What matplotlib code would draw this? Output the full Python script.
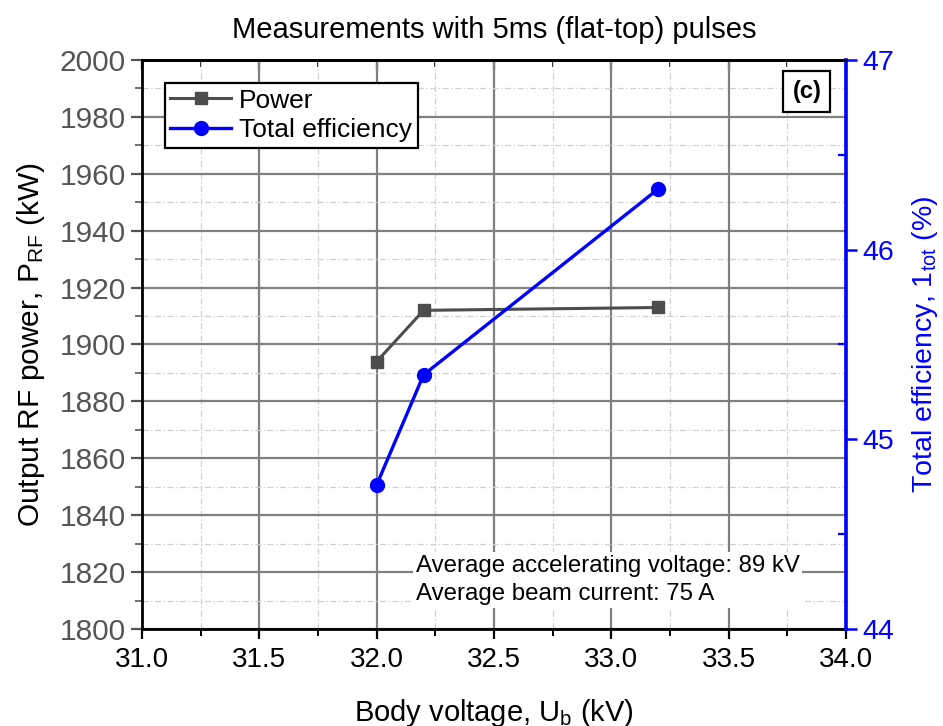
"""
Power and total efficiency vs body voltage, 5 ms flat-top pulses.
"""

import matplotlib
matplotlib.use("Agg")
import matplotlib.pyplot as plt
from matplotlib.ticker import MultipleLocator
from matplotlib.lines import Line2D

plt.rcParams["font.family"] = ["Liberation Sans", "DejaVu Sans"]
plt.rcParams["mathtext.fontset"] = "custom"
plt.rcParams["mathtext.rm"] = "Liberation Sans"
plt.rcParams["mathtext.it"] = "Liberation Sans"

# Данные
body_voltage = [32.0, 32.2, 33.2]
power_kw = [1894, 1912, 1913]
efficiency_pct = [44.76, 45.34, 46.32]

GRAY = "#4d4d4d"
BLUE = "#0000ff"

fig = plt.figure(figsize=(9.43, 7.26), dpi=100)
ax = fig.add_axes([0.1506, 0.1336, 0.7465, 0.7838])
ax2 = ax.twinx()

# Сетка
ax.set_axisbelow(True)
ax.grid(True, which="major", color="#808080", linewidth=1.6)
ax.grid(True, which="minor", color="#d0d0d0", linewidth=0.9,
        linestyle=(0, (5, 2, 1, 2)))

ax.plot(body_voltage, power_kw, "-s", color=GRAY, linewidth=2.2,
        markersize=9, zorder=3)
ax2.plot(body_voltage, efficiency_pct, "-o", color=BLUE, linewidth=2.4,
         markersize=10, zorder=3)

# Оси
ax.set_xlim(31.0, 34.0)
ax.set_ylim(1800, 2000)
ax2.set_ylim(44, 47)
ax.xaxis.set_major_locator(MultipleLocator(0.5))
ax.xaxis.set_minor_locator(MultipleLocator(0.25))
ax.yaxis.set_major_locator(MultipleLocator(20))
ax.yaxis.set_minor_locator(MultipleLocator(10))
ax2.yaxis.set_major_locator(MultipleLocator(1))
ax2.yaxis.set_minor_locator(MultipleLocator(0.5))
ax.xaxis.set_major_formatter(plt.FormatStrFormatter("%.1f"))

ax.tick_params(axis="x", which="major", direction="out", length=7, width=1.6,
               labelsize=20, pad=6, colors="black")
ax.tick_params(axis="x", which="minor", direction="out", length=5, width=1.4)
ax.tick_params(axis="y", which="major", direction="out", length=8, width=1.6,
               labelsize=21.5, labelcolor="#555555", color="#555555")
ax.tick_params(axis="y", which="minor", direction="out", length=5, width=1.2,
               color="#555555")
ax2.tick_params(axis="y", which="major", direction="out", length=8, width=1.8,
                labelsize=20.5, colors=BLUE)
ax2.tick_params(axis="y", which="minor", direction="in", length=6, width=1.6,
                colors=BLUE)

# Верхние засечки внутрь
top = ax.secondary_xaxis("top")
top.xaxis.set_major_locator(MultipleLocator(0.5))
top.xaxis.set_minor_locator(MultipleLocator(0.25))
top.tick_params(which="major", direction="in", length=7, width=1.6,
                labeltop=False)
top.tick_params(which="minor", direction="in", length=5, width=1.2)
top.spines["top"].set_linewidth(2)

for s in ["left", "bottom", "top"]:
    ax.spines[s].set_linewidth(2)
    ax.spines[s].set_color("black")
ax2.spines["right"].set_color(BLUE)
ax2.spines["right"].set_linewidth(2.6)
ax2.spines["left"].set_visible(False)

ax.set_xlabel("Body voltage, U$_{\\mathrm{b}}$ (kV)", fontsize=21, labelpad=17)
ax.set_ylabel("Output RF power, P$_{\\mathrm{RF}}$ (kW)", fontsize=21.5,
              labelpad=9)
ax2.set_ylabel("Total efficiency, 1$_{\\mathrm{tot}}$ (%)", fontsize=20.5,
               color=BLUE, labelpad=12)
ax.set_title("Measurements with 5ms (flat-top) pulses", fontsize=21, pad=16)

# Легенда
handles = [
    Line2D([], [], color=GRAY, marker="s", linewidth=2.2, markersize=9),
    Line2D([], [], color=BLUE, marker="o", linewidth=2.4, markersize=10),
]
leg = ax2.legend(handles, ["Power", "Total efficiency"], loc="upper left",
                 bbox_to_anchor=(0.032, 0.96), fontsize=19, frameon=True,
                 fancybox=False, framealpha=1, edgecolor="black",
                 handlelength=2.3, handletextpad=0.3, borderpad=0.22,
                 labelspacing=0.2, borderaxespad=0)
leg.get_frame().set_linewidth(1.6)

ax2.text(0.965, 0.965, "(c)", transform=ax2.transAxes, fontsize=17,
         fontweight="bold", ha="right", va="top",
         bbox=dict(boxstyle="square,pad=0.38", facecolor="white",
                   edgecolor="black", linewidth=1.6))

ax2.text(0.389, 0.086,
         "Average accelerating voltage: 89 kV\nAverage beam current: 75 A",
         transform=ax2.transAxes, fontsize=17.3, ha="left", va="center",
         linespacing=1.4,
         bbox=dict(boxstyle="square,pad=0.1", facecolor="white",
                   edgecolor="none"))

fig.savefig("out.png", dpi=100)
